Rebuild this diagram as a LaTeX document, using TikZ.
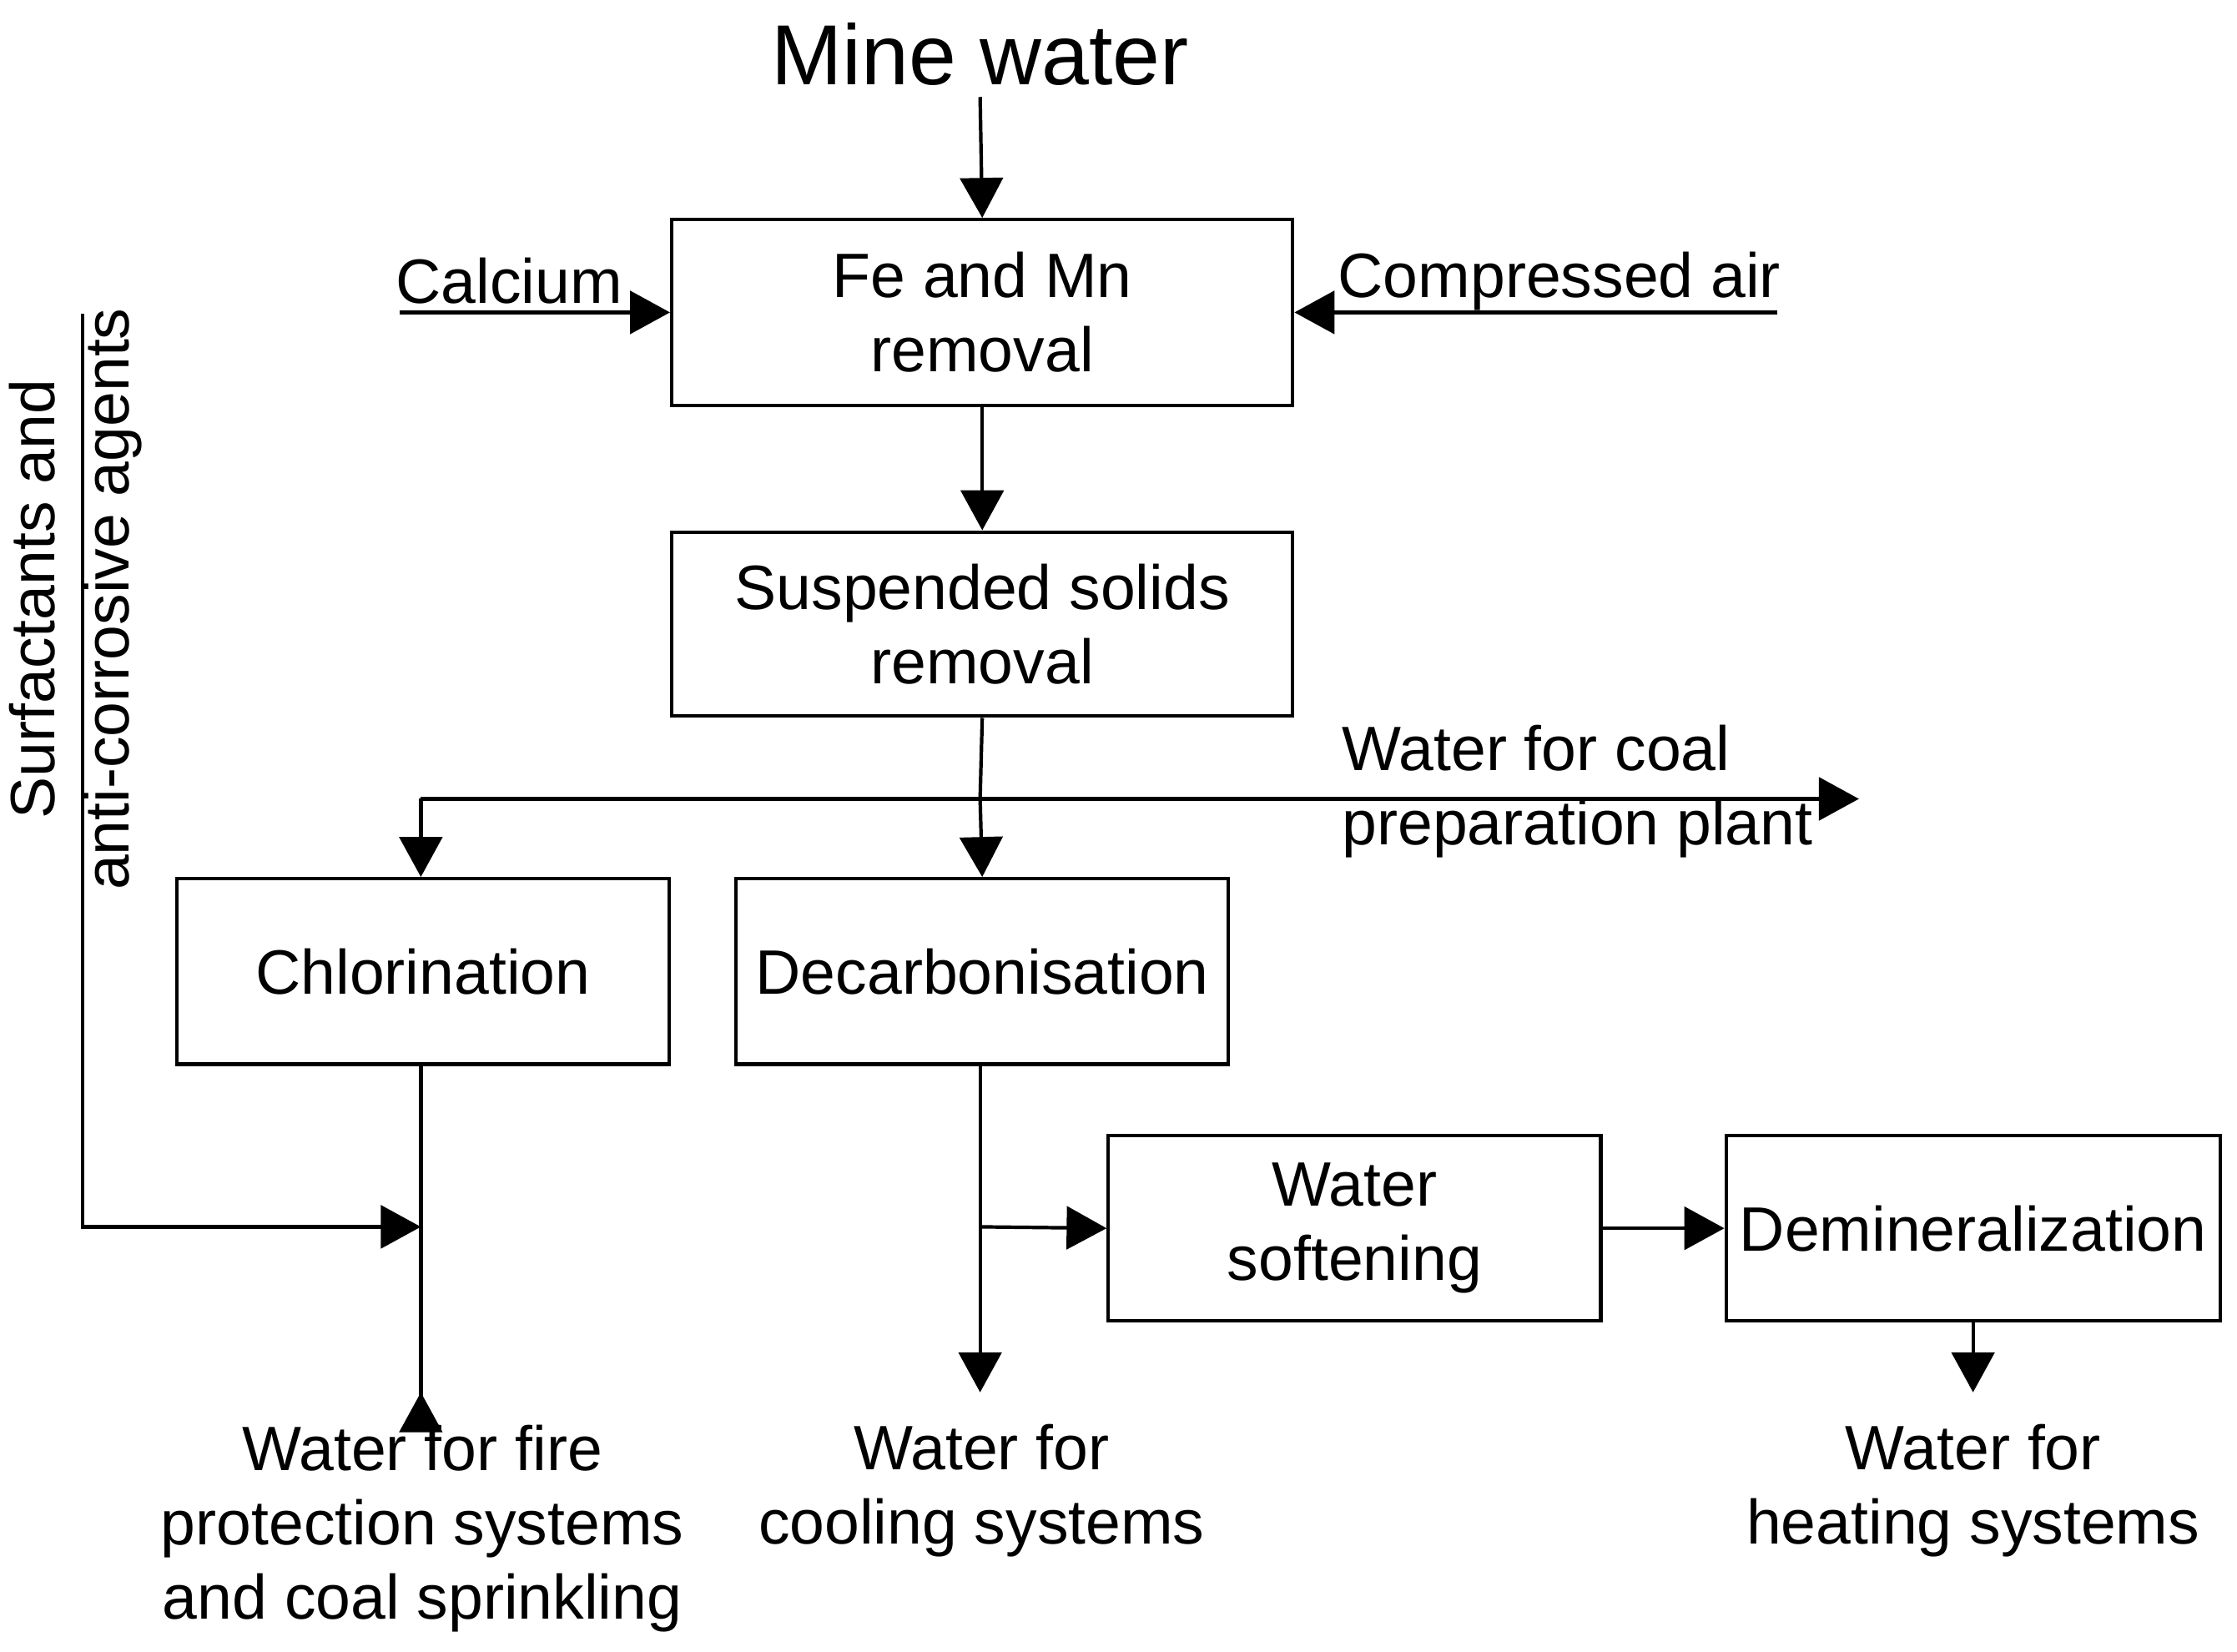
\documentclass[tikz,border=0pt]{standalone}
\usepackage{fontspec}
\setmainfont{Liberation Sans}
\usetikzlibrary{arrows.meta}
\begin{document}
\begin{tikzpicture}[x=0.01cm,y=-0.01cm,
  box/.style={draw,line width=0.7pt,inner sep=0pt,align=center,font=\fontsize{12.5}{14.8}\selectfont},
  txt/.style={inner sep=0pt,align=center,font=\fontsize{12.5}{14.8}\selectfont},
  ar/.style={line width=0.7pt,-{Triangle[length=0.28cm,width=0.3cm]}},
  ln/.style={line width=0.7pt}]
\useasboundingbox (0,0) rectangle (1568,1158);
\node[inner sep=0pt,font=\fontsize{17}{20}\selectfont] (mw) at (687,38) {Mine water};
\coordinate (mwb) at (687,68);
\node[box,minimum width=4.35cm,minimum height=1.30cm] (fe) at (688.5,219) {Fe and Mn\\removal};
\node[box,minimum width=4.35cm,minimum height=1.29cm] (ss) at (688.5,437.5) {Suspended solids\\removal};
\node[box,minimum width=3.45cm,minimum height=1.30cm] (ch) at (296.5,681) {Chlorination};
\node[box,minimum width=3.45cm,minimum height=1.30cm] (dc) at (688.5,681) {Decarbonisation};
\node[box,minimum width=3.45cm,minimum height=1.30cm] (ws) at (949.5,861) {Water\\softening};
\node[box,minimum width=3.46cm,minimum height=1.30cm] (dm) at (1383,861) {Demineralization};
\node[txt] (ca) at (357,197) {Calcium};
\node[txt] (air) at (1093,197) {Compressed air};
\node[txt,align=left,anchor=west] (coal) at (940,555) {Water for coal\\preparation plant};
\node[txt,rotate=90] (sur) at (53,420) {Surfactants and\\anti-corrosive agents};
\node[txt,anchor=north] (o1) at (296,998) {Water for fire\\protection systems\\and coal sprinkling};
\node[txt,anchor=north] (o2) at (688,998) {Water for\\cooling systems};
\node[txt,anchor=north] (o3) at (1383,998) {Water for\\heating systems};
\coordinate (caL) at (280,219);
\coordinate (airR) at (1246,219);
\coordinate (sp) at (687,560);
\coordinate (spL) at (295,560);
\coordinate (spR) at (1303,560);
\coordinate (sT) at (58,220);
\coordinate (sB) at (58,860);
\coordinate (chj) at (295,860);
\coordinate (dcj) at (687,860);
\draw[ar] (mwb) -- (fe.north);
\draw[ar] (caL) -- (fe.west);
\draw[ar] (airR) -- (fe.east);
\draw[ar] (fe.south) -- (ss.north);
\draw[ln] (ss.south) -- (sp);
\draw[ar] (sp) -- (dc.north);
\draw[ln] (spL) -- (sp);
\draw[ar] (sp) -- (spR);
\draw[ar] (spL) -- (spL|-ch.north);
\draw[ar] (ch.south-|chj) -- (chj|-o1.north) ++(0,-22);
\draw[ar] (sT) -- (sB) -- (chj);
\draw[ar] (dc.south-|dcj) -- (687,976);
\draw[ar] (dcj) -- (ws.west);
\draw[ar] (ws.east) -- (dm.west);
\draw[ar] (dm.south) -- (1383,976);
\end{tikzpicture}
\end{document}
